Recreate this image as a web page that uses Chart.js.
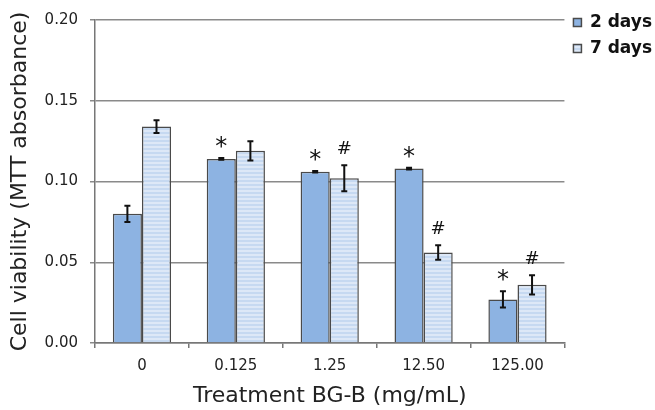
<!DOCTYPE html>
<html>
<head>
<meta charset="utf-8">
<script src="https://cdn.jsdelivr.net/npm/chart.js@4.4.0/dist/chart.umd.min.js"></script>
<style>
  html, body { margin: 0; padding: 0; background: #fff; }
  #wrap { width: 655px; height: 410px; }
</style>
</head>
<body>
<div id="wrap"><canvas id="mtt" width="655" height="410"></canvas></div>
<script>
var doses = ['0', '0.125', '1.25', '12.50', '125.00'];
var day2 = [0.080, 0.114, 0.106, 0.108, 0.027];
var day2Err = [0.005, 0.0005, 0.0005, 0.0005, 0.005];
var day7 = [0.134, 0.119, 0.102, 0.056, 0.036];
var day7Err = [0.004, 0.006, 0.008, 0.0045, 0.006];
var day2Marks = ['', '*', '*', '*', '*'];
var day7Marks = ['', '', '#', '#', '#'];
var yTicks = [0, 0.05, 0.10, 0.15, 0.20];

var FONT = '"DejaVu Sans", "Liberation Sans", Arial, sans-serif';

// striped light blue fill for the 7 day bars
function stripes() {
    var c = document.createElement('canvas');
    c.width = 4; c.height = 4;
    var g = c.getContext('2d');
    g.fillStyle = '#c6d9f1';
    g.fillRect(0, 0, 4, 4);
    g.fillStyle = '#dde8f7';
    g.fillRect(0, 2, 4, 2);
    return g.createPattern(c, 'repeat');
}

var errPlugin = {
    id: 'errbars',
    afterDatasetsDraw: function (chart) {
        var ctx = chart.ctx;
        var y = chart.scales.y;
        var errs = [day2Err, day7Err];
        var vals = [day2, day7];
        var marks = [day2Marks, day7Marks];
        ctx.save();
        chart.data.datasets.forEach(function (ds, di) {
            var meta = chart.getDatasetMeta(di);
            meta.data.forEach(function (bar, i) {
                var v = vals[di][i], e = errs[di][i];
                var top = y.getPixelForValue(v + e);
                var bot = y.getPixelForValue(v - e);
                ctx.strokeStyle = '#111';
                ctx.lineWidth = 2;
                ctx.beginPath();
                ctx.moveTo(bar.x, top); ctx.lineTo(bar.x, bot);
                ctx.moveTo(bar.x - 3, top); ctx.lineTo(bar.x + 3, top);
                ctx.moveTo(bar.x - 3, bot); ctx.lineTo(bar.x + 3, bot);
                ctx.stroke();
                var m = marks[di][i];
                if (m) {
                    ctx.fillStyle = '#111';
                    ctx.textAlign = 'center';
                    ctx.textBaseline = 'alphabetic';
                    if (m === '*') {
                        ctx.font = '24px ' + FONT;
                        ctx.fillText(m, bar.x, top - 4);
                    } else {
                        ctx.font = '18px ' + FONT;
                        ctx.fillText(m, bar.x, top - 11);
                    }
                }
            });
        });
        ctx.restore();
    }
};

var cx = document.getElementById('mtt').getContext('2d');
var mttChart = new Chart(cx, {
    type: 'bar',
    data: {
        labels: doses,
        datasets: [{
            label: '2 days',
            data: day2,
            backgroundColor: '#8db3e2',
            borderColor: '#4a4a4a',
            borderWidth: 1.5,
            categoryPercentage: 0.62,
            barPercentage: 1.0
        }, {
            label: '7 days',
            data: day7,
            backgroundColor: stripes(),
            borderColor: '#4a4a4a',
            borderWidth: 1.5,
            categoryPercentage: 0.62,
            barPercentage: 1.0
        }]
    },
    options: {
        responsive: false,
        animation: false,
        layout: {
            padding: { left: 0, right: -7, top: 5, bottom: 0 }
        },
        plugins: {
            legend: {
                position: 'right',
                align: 'start',
                labels: {
                    boxWidth: 8,
                    boxHeight: 8,
                    padding: 9,
                    color: '#111',
                    font: { family: FONT, size: 17, weight: 'bold' }
                }
            },
            tooltip: { enabled: false }
        },
        scales: {
            x: {
                afterFit: function (s) { s.height = 67; },
                grid: { display: true, drawOnChartArea: false, color: '#777', lineWidth: 1.5, tickLength: 5 },
                border: { color: '#777', width: 1.5 },
                ticks: { color: '#222', font: { family: FONT, size: 15 }, padding: 9 },
                title: {
                    display: true,
                    text: 'Treatment BG-B (mg/mL)',
                    color: '#222',
                    font: { family: FONT, size: 22 },
                    padding: { top: 0, bottom: 1 }
                }
            },
            y: {
                min: 0,
                max: 0.2,
                afterBuildTicks: function (s) {
                    s.ticks = yTicks.map(function (v) { return { value: v }; });
                },
                afterFit: function (s) { s.width = 95; s.paddingTop = 20; },
                grid: { color: '#8a8a8a', lineWidth: 1.5, tickLength: 5 },
                border: { color: '#777', width: 1.5 },
                ticks: {
                    color: '#222',
                    font: { family: FONT, size: 15 },
                    padding: 12,
                    callback: function (v) { return v.toFixed(2); }
                },
                title: {
                    display: true,
                    text: 'Cell viability (MTT absorbance)',
                    color: '#222',
                    font: { family: FONT, size: 22 },
                    padding: { top: 7, bottom: 0 }
                }
            }
        }
    },
    plugins: [errPlugin]
});
</script>
</body>
</html>
